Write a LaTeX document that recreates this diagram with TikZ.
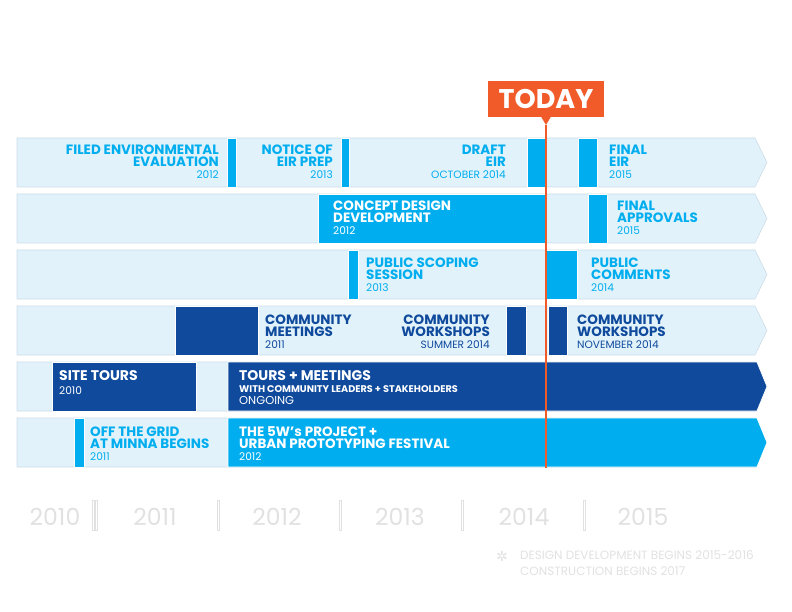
\documentclass[tikz,border=0pt]{standalone}
\usepackage{fontspec}
\setmainfont{Poppins}
\newfontfamily\symfont{DejaVu Sans}
\usepackage{xcolor}
\definecolor{paleblue}{RGB}{225,242,251}
\definecolor{rowedge}{RGB}{205,222,232}
\definecolor{cyanbar}{RGB}{0,174,239}
\definecolor{navy}{RGB}{15,74,156}
\definecolor{todayorange}{RGB}{241,90,41}
\definecolor{faint}{RGB}{225,225,225}
\usepackage{tikz}
\usetikzlibrary{positioning, calc}

\newcommand{\yr}[1]{{\fontsize{10.6}{12}\selectfont\mdseries #1}}

\begin{document}
\begin{tikzpicture}[x=1pt, y=-1pt,
  rowbg/.style={fill=paleblue, draw=rowedge, line width=0.6pt},
  seg/.style={draw=white, line width=0.8pt},
  lbl/.style={inner sep=0pt, font=\fontsize{13.5}{12}\selectfont\bfseries},
  lblL/.style={lbl, anchor=base west, align=left},
  lblR/.style={lbl, anchor=base east, align=right},
  axisyr/.style={inner sep=0pt, anchor=base, text=faint, font=\fontsize{23.5}{23}\selectfont\mdseries},
  tick/.style={draw=faint, fill=white, line width=0.5pt}]
  \useasboundingbox (0,0) rectangle (792,612);
  % light rows
  \foreach \t in {138,194,250,306,362,418}
    \draw[rowbg] (17,\t) -- (755,\t) -- (767,\t+24.5) -- (755,\t+49) -- (17,\t+49) -- cycle;
  % bars, row by row
  \draw[seg, fill=cyanbar] (227,138) rectangle (236,187);
  \draw[seg, fill=cyanbar] (341,138) rectangle (349,187);
  \draw[seg, fill=cyanbar] (527,138) rectangle (545,187);
  \draw[seg, fill=cyanbar] (578,138) rectangle (597,187);
  \draw[seg, fill=cyanbar] (318,194) rectangle (546,243);
  \draw[seg, fill=cyanbar] (588,194) rectangle (607,243);
  \draw[seg, fill=cyanbar] (348,250) rectangle (358,299);
  \draw[seg, fill=cyanbar] (546,250) rectangle (577,299);
  \draw[seg, fill=navy] (175,306) rectangle (258,355);
  \draw[seg, fill=navy] (506,306) rectangle (526,355);
  \draw[seg, fill=navy] (548,306) rectangle (567,355);
  \draw[seg, fill=navy] (52,362) rectangle (196,411);
  \draw[seg, fill=navy] (228,362) -- (757,362) -- (767,386.5) -- (757,411) -- (228,411) -- cycle;
  \draw[seg, fill=cyanbar] (74,418) rectangle (84,467);
  \draw[seg, fill=cyanbar] (228,418) -- (757,418) -- (767,442.5) -- (757,467) -- (228,467) -- cycle;
  % row 1: environmental review
  \node[lblR, text=cyanbar] (filed) at (219,179) {FILED ENVIRONMENTAL\\EVALUATION\\\yr{2012}};
  \node[lblR, text=cyanbar] (notice) at (333,179) {NOTICE OF\\EIR PREP\\\yr{2013}};
  \node[lblR, text=cyanbar] (draft) at (506,179) {DRAFT\\EIR\\\yr{OCTOBER 2014}};
  \node[lblL, text=cyanbar] (finaleir) at (609,179) {FINAL\\EIR\\\yr{2015}};
  % row 2: design
  \node[lblL, text=white] (concept) at (333,235) {CONCEPT DESIGN\\DEVELOPMENT\\\yr{2012}};
  \node[lblL, text=cyanbar] (approvals) at (617,235) {FINAL\\APPROVALS\\\yr{2015}};
  % row 3: public input
  \node[lblL, text=cyanbar] (scoping) at (366,291) {PUBLIC SCOPING\\SESSION\\\yr{2013}};
  \node[lblL, text=cyanbar] (comments) at (591,291) {PUBLIC\\COMMENTS\\\yr{2014}};
  % row 4: community meetings and workshops
  \node[lblL, text=navy] (meetings) at (265,348) {COMMUNITY\\MEETINGS\\\yr{2011}};
  \node[lblR, text=navy] (wsummer) at (490,348) {COMMUNITY\\WORKSHOPS\\\yr{SUMMER 2014}};
  \node[lblL, text=navy] (wnov) at (577,348) {COMMUNITY\\WORKSHOPS\\\yr{NOVEMBER 2014}};
  % row 5: tours
  \node[lblL, text=white, font=\fontsize{14}{14}\selectfont\bfseries] (sitetours) at (59,394) {SITE TOURS\\\yr{2010}};
  \node[lblL, text=white, font=\fontsize{14}{12}\selectfont\bfseries] (tours) at (239,404)
    {TOURS + MEETINGS\\{\fontsize{9.7}{12}\selectfont WITH COMMUNITY LEADERS + STAKEHOLDERS}\\{\fontsize{11.5}{12}\selectfont\mdseries ONGOING}};
  % row 6: events
  \node[lblL, text=cyanbar] (offgrid) at (90,460) {OFF THE GRID\\AT MINNA BEGINS\\\yr{2011}};
  \node[lblL, text=white] (fivew) at (239,460) {THE 5W’s PROJECT +\\URBAN PROTOTYPING FESTIVAL\\\yr{2012}};
  % today marker
  \node[fill=todayorange, text=white, minimum width=116pt, minimum height=36pt, inner sep=0pt,
    font=\fontsize{27}{27}\selectfont\bfseries] (today) at (546,99) {TODAY};
  \coordinate (tip) at (546,125);
  \coordinate (todayend) at (546,468);
  \fill[todayorange] (541,116.5) -- (tip) -- (551,116.5) -- cycle;
  \draw[todayorange, line width=2pt] (tip) -- (todayend);
  % year axis
  \draw[tick] (92,500) rectangle (94,530);
  \draw[tick] (95.5,500) rectangle (97.5,530);
  \foreach \x in {217,339,461,583}
    \draw[tick] (\x,500) rectangle (\x+2,530);
  \node[axisyr] (y2010) at (55,525) {2010};
  \node[axisyr] (y2011) at (155,525) {2011};
  \node[axisyr] (y2012) at (277,525) {2012};
  \node[axisyr] (y2013) at (400,525) {2013};
  \node[axisyr] (y2014) at (524,525) {2014};
  \node[axisyr] (y2015) at (643,525) {2015};
  % footnote
  \node[text=faint, font=\symfont\fontsize{14}{14}\selectfont, inner sep=0pt] (star) at (502,556) {✲};
  \node[text=faint, font=\fontsize{12}{16}\selectfont, inner sep=0pt, anchor=base west, align=left] (note) at (520,575)
    {DESIGN DEVELOPMENT BEGINS 2015-2016\\CONSTRUCTION BEGINS 2017};
\end{tikzpicture}
\end{document}
